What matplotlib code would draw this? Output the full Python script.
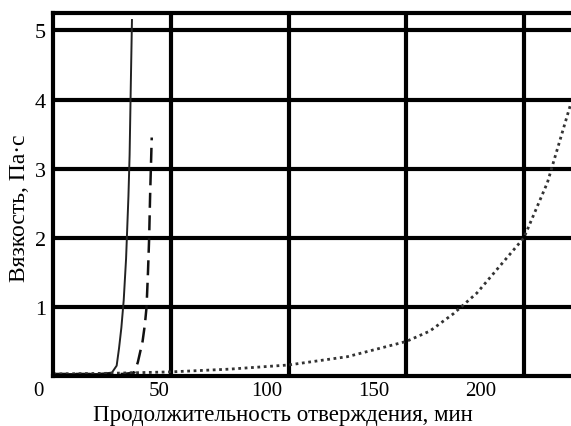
import matplotlib
matplotlib.use("Agg")
import matplotlib.pyplot as plt
import matplotlib.transforms as mtransforms

plt.rcParams['font.family'] = ['Liberation Serif', 'DejaVu Serif']

# Curve 1 (solid)
x_solid = [0, 10, 20, 25, 27, 28, 29, 30, 31, 32, 32.5, 33, 33.5]
y_solid = [0.03, 0.03, 0.03, 0.05, 0.15, 0.4, 0.7, 1.1, 1.7, 2.6, 3.2, 4.2, 5.15]
# Curve 2 (dashed)
x_dash = [0, 10, 20, 30, 34.5, 36, 38, 39, 39.7, 40.3, 40.8, 41.2, 41.9]
y_dash = [0.03, 0.03, 0.03, 0.03, 0.05, 0.2, 0.5, 0.75, 1.0, 1.5, 2.0, 2.6, 3.45]
# Curve 3 (dotted)
x_dot = [0, 25, 50, 75, 100, 125, 150, 160, 170, 180, 190, 200, 210, 220]
y_dot = [0.03, 0.04, 0.06, 0.1, 0.16, 0.28, 0.5, 0.65, 0.9, 1.2, 1.6, 2.0, 2.8, 3.95]

xticks = [0, 50, 100, 150, 200]
yticks = [1, 2, 3, 4, 5]

fig = plt.figure(figsize=(5.71, 4.27), dpi=100)
ax = fig.add_axes([0.093, 0.117, 0.907, 0.85])

ax.plot(x_solid, y_solid, color='#222222', lw=1.4, ls='-')
ax.plot(x_dash, y_dash, color='#111111', lw=1.8, ls=(0, (6, 3)))
ax.plot(x_dot, y_dot, color='#333333', lw=2.0, ls=(0, (1, 1.3)))

ax.set_xlim(0, 220)
ax.set_ylim(0, 5.25)
ax.set_xticks(xticks[1:])
ax.set_xticklabels([])
ax.set_yticks(yticks)
ax.tick_params(length=0, labelsize=16, pad=5)
ax.grid(True, color='black', lw=3)
ax.set_axisbelow(True)
for s in ['left', 'bottom', 'top']:
    ax.spines[s].set_linewidth(3)
ax.spines['right'].set_visible(False)

# x tick labels (the original labels drift left of their gridlines)
blend = mtransforms.blended_transform_factory(ax.transData, ax.transAxes)
for v in xticks:
    shift = -15 if v == 0 else -(v / 50) * 10.7 - 0.5
    tr = blend + mtransforms.ScaledTranslation(shift / 100, 0, fig.dpi_scale_trans)
    ax.text(v, -0.015, str(v), transform=tr, ha='center', va='top', fontsize=15)

ax.set_xlabel('Продолжительность отверждения, мин', fontsize=16.5)
ax.xaxis.set_label_coords(0.443, -0.076)
ax.set_ylabel('Вязкость, Па·с', fontsize=17)
ax.yaxis.set_label_coords(-0.045, 0.465)

fig.savefig('out.png', dpi=100)
